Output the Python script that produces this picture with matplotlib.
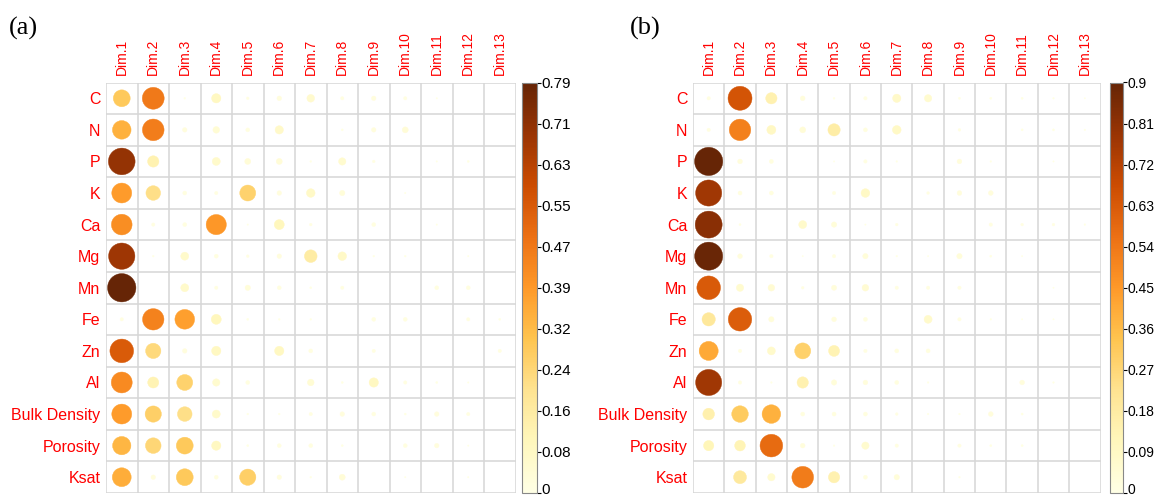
import numpy as np
import matplotlib
matplotlib.use("Agg")
import matplotlib.pyplot as plt
from matplotlib import colors, transforms
from matplotlib.colorbar import ColorbarBase

plt.rcParams['font.family'] = ['Liberation Sans', 'DejaVu Sans']

# variables (rows) and dimensions (columns)
rows = ["C", "N", "P", "K", "Ca", "Mg", "Mn", "Fe", "Zn", "Al",
        "Bulk Density", "Porosity", "Ksat"]
dims = ["Dim.%d" % i for i in range(1, 14)]

# cos2 values, panel (a)
cos2_a = [
    [0.28, 0.47, 0.003, 0.085, 0.007, 0.021, 0.058, 0.011, 0.02, 0.011, 0.002, 0, 0],
    [0.34, 0.46, 0.02, 0.043, 0.015, 0.068, 0, 0.004, 0.02, 0.035, 0, 0, 0],
    [0.70, 0.126, 0, 0.063, 0.035, 0.035, 0.003, 0.053, 0.007, 0, 0.002, 0.004, 0],
    [0.39, 0.21, 0.015, 0.011, 0.25, 0.02, 0.073, 0.028, 0, 0.002, 0, 0, 0],
    [0.42, 0.011, 0.015, 0.40, 0.002, 0.098, 0.007, 0, 0.015, 0, 0.002, 0, 0],
    [0.68, 0.003, 0.063, 0.015, 0.007, 0.02, 0.157, 0.073, 0.003, 0.003, 0, 0.002, 0],
    [0.79, 0, 0.063, 0.011, 0.028, 0.015, 0.004, 0.011, 0, 0, 0.015, 0.015, 0],
    [0.011, 0.45, 0.38, 0.098, 0.004, 0.003, 0.003, 0, 0.015, 0.015, 0, 0.011, 0.004],
    [0.55, 0.23, 0.02, 0.085, 0, 0.085, 0.015, 0, 0.011, 0, 0, 0, 0.011],
    [0.43, 0.12, 0.25, 0.053, 0.015, 0, 0.043, 0.004, 0.085, 0.011, 0.004, 0.002, 0],
    [0.39, 0.26, 0.21, 0.063, 0.003, 0.003, 0.011, 0.02, 0.015, 0.004, 0.02, 0.011, 0],
    [0.33, 0.24, 0.28, 0.085, 0.004, 0.015, 0.015, 0.004, 0, 0.015, 0.02, 0.002, 0],
    [0.35, 0.02, 0.28, 0.015, 0.26, 0.02, 0.003, 0.035, 0, 0.002, 0, 0.002, 0],
]

# cos2 values, panel (b)
cos2_b = [
    [0.013, 0.65, 0.145, 0.025, 0.004, 0.013, 0.078, 0.061, 0.005, 0.005, 0.005, 0.003, 0.002],
    [0.013, 0.52, 0.092, 0.04, 0.17, 0.018, 0.085, 0, 0.008, 0, 0.005, 0.005, 0.003],
    [0.90, 0.025, 0.018, 0, 0.002, 0.013, 0.003, 0, 0.025, 0.003, 0, 0.002, 0],
    [0.77, 0.018, 0.018, 0, 0.013, 0.085, 0, 0.008, 0.025, 0.025, 0, 0, 0],
    [0.82, 0.005, 0, 0.072, 0.032, 0.002, 0.008, 0, 0, 0.013, 0.008, 0.008, 0.003],
    [0.89, 0.025, 0.013, 0.002, 0.013, 0.032, 0.003, 0.002, 0.032, 0.005, 0.002, 0, 0],
    [0.63, 0.06, 0.05, 0.008, 0.03, 0.05, 0.013, 0.013, 0.013, 0, 0, 0.002, 0],
    [0.20, 0.62, 0.032, 0, 0.025, 0.018, 0, 0.072, 0.013, 0.003, 0.002, 0.002, 0],
    [0.41, 0.013, 0.072, 0.29, 0.137, 0.013, 0.018, 0.018, 0, 0, 0, 0, 0],
    [0.77, 0.013, 0.003, 0.145, 0.032, 0.025, 0.018, 0.003, 0, 0, 0.025, 0.003, 0],
    [0.154, 0.31, 0.39, 0.018, 0.018, 0.018, 0.008, 0.003, 0.003, 0.025, 0.005, 0, 0],
    [0.12, 0.13, 0.58, 0.025, 0.003, 0.061, 0.013, 0, 0.013, 0.005, 0.005, 0, 0],
    [0, 0.19, 0.061, 0.53, 0.145, 0.018, 0.032, 0, 0.003, 0, 0, 0, 0],
]

max_a, max_b = 0.79, 0.9
ticks_a = ["0", "0.08", "0.16", "0.24", "0.32", "0.39", "0.47", "0.55", "0.63", "0.71", "0.79"]
ticks_b = ["0", "0.09", "0.18", "0.27", "0.36", "0.45", "0.54", "0.63", "0.72", "0.81", "0.9"]

W, H = 1156, 499
fig = plt.figure(figsize=(W / 100, H / 100), dpi=100)
cmap = plt.get_cmap("YlOrBr")
grid_col = "#d6d6d6"


def panel(x0, x1, cb_x0, cb_w, data, vmax, tick_labels, cb_fs, tag, tag_x):
    top, bot = 82.5, 493
    ax = fig.add_axes([x0 / W, 1 - bot / H, (x1 - x0) / W, (bot - top) / H])
    data = np.array(data)
    nr, nc = data.shape
    ax.set_xlim(-0.5, nc - 0.5)
    ax.set_ylim(nr - 0.5, -0.5)
    for i in range(nr + 1):
        ax.axhline(i - 0.5, color=grid_col, lw=1.1, zorder=1)
    for j in range(nc + 1):
        ax.axvline(j - 0.5, color=grid_col, lw=1.1, zorder=1)
    for s in ax.spines.values():
        s.set_visible(False)

    # circle area proportional to the value, largest fills 90% of a cell
    cell_px = (x1 - x0) / nc
    jj, ii = np.meshgrid(np.arange(nc), np.arange(nr))
    v = data.ravel()
    r_pt = 0.45 * cell_px * np.sqrt(np.clip(v, 0, None) / vmax) * 0.72
    norm = colors.Normalize(0, vmax)
    cols = cmap(norm(v))
    ax.scatter(jj.ravel(), ii.ravel(), s=(2 * r_pt) ** 2, c=cols,
               edgecolors=cols, linewidths=0.3, zorder=3)

    ax.xaxis.tick_top()
    ax.set_xticks(range(nc))
    ax.set_xticklabels(dims, rotation=90, color="red", fontsize=10)
    ax.set_yticks(range(nr))
    ax.set_yticklabels(rows, color="red", fontsize=11.5)
    ax.tick_params(axis="x", length=0, pad=5.5)
    ax.tick_params(axis="y", length=0, pad=4)

    cax = fig.add_axes([cb_x0 / W, 1 - bot / H, cb_w / W, (bot - top) / H])
    cb = ColorbarBase(cax, cmap=cmap, norm=norm, orientation="vertical")
    cb.outline.set_edgecolor("#888888")
    cb.outline.set_linewidth(0.8)
    cb.set_ticks(np.linspace(0, vmax, len(tick_labels)))
    cb.set_ticklabels(tick_labels)
    cax.tick_params(length=3, width=0.8, pad=0.5, labelsize=cb_fs)
    # nudge the bottom "0" up a little so it stays inside the figure
    lab0 = cax.get_yticklabels()[0]
    lab0.set_transform(lab0.get_transform() +
                       transforms.ScaledTranslation(0, 3 / 72, fig.dpi_scale_trans))

    fig.text(tag_x / W, 1 - 28 / H, tag, family="Liberation Serif",
             fontsize=19, va="center", ha="left")


panel(106, 515.5, 522, 15, cos2_a, max_a, ticks_a, 11, "(a)", 9)
panel(693, 1100.5, 1110, 13, cos2_b, max_b, ticks_b, 10, "(b)", 630)

fig.savefig("out.png", dpi=100)
